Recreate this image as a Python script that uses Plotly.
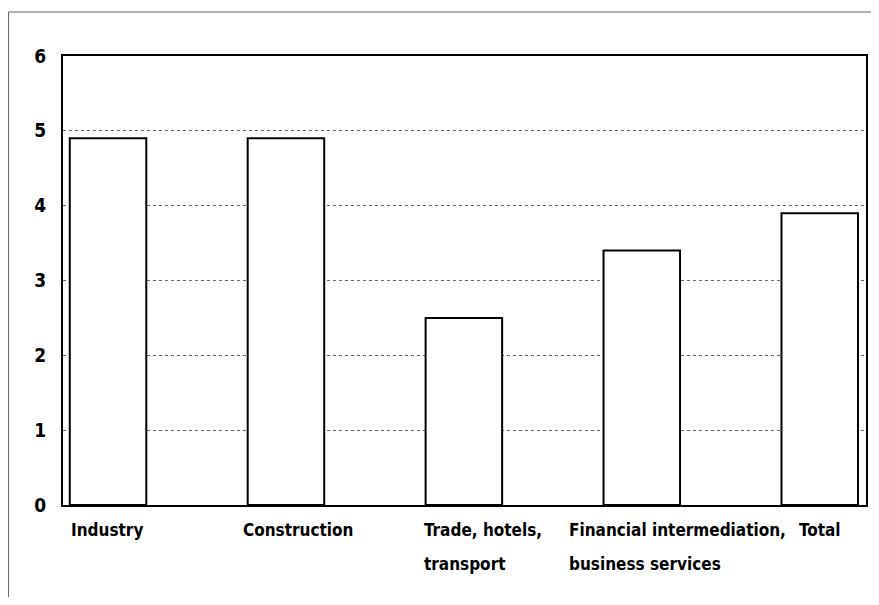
import plotly.graph_objects as go

categories = ["Industry", "Construction", "Trade, hotels,<br>transport",
              "Financial intermediation,<br>business services", "Total"]
values = [4.9, 4.9, 2.5, 3.4, 3.9]
tick_vals = [0, 1, 2, 3, 4, 5, 6]
tick_text = ["0", "1", "2", "3", "4", "5", "6"]

label_shift = [-39, -45, -42, -75, -23]

FONT = "DejaVu Sans Condensed, DejaVu Sans, sans-serif"

xs = list(range(len(categories)))
fig = go.Figure()
fig.add_trace(go.Bar(
    x=xs, y=values, width=0.43,
    marker=dict(color="white", line=dict(color="black", width=2)),
    hoverinfo="skip",
))

for i, lab in enumerate(categories):
    for j, line in enumerate(lab.split("<br>")):
        fig.add_annotation(
            x=i, y=0, xref="x", yref="y", text="<b>" + line + "</b>",
            showarrow=False, xanchor="left", yanchor="top", align="left",
            xshift=label_shift[i], yshift=-13 - 34 * j,
            font=dict(family=FONT, size=17, color="black"),
        )

fig.update_layout(
    width=871, height=589,
    margin=dict(l=55, r=13, t=48, b=92),
    paper_bgcolor="white", plot_bgcolor="white",
    showlegend=False,
    xaxis=dict(range=[-0.253, 4.26], showticklabels=False, showgrid=False,
               zeroline=False, showline=True, linecolor="black", linewidth=2,
               mirror=True, ticks=""),
    yaxis=dict(range=[0, 6], tickvals=tick_vals,
               ticktext=["<b>%s</b>" % t for t in tick_text],
               showgrid=True, gridcolor="#666", griddash="dot", gridwidth=1,
               zeroline=False, showline=True, linecolor="black", linewidth=2,
               mirror=True, ticks="", ticklabelstandoff=11,
               tickfont=dict(family=FONT, size=19, color="black")),
    shapes=[dict(type="rect", xref="paper", yref="paper",
                 x0=-0.0679, x1=1.03, y0=-0.26, y1=1.098,
                 line=dict(color="#666", width=1))],
)

fig.write_html("out.html")
